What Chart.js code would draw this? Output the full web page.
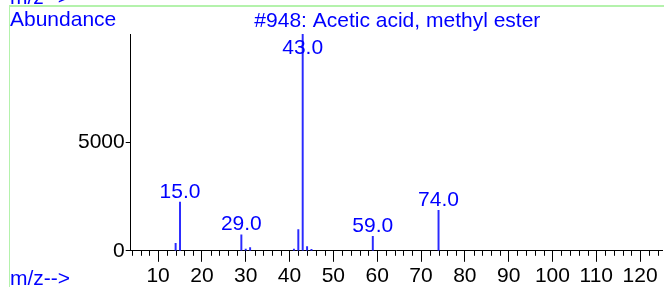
<!DOCTYPE html>
<html>
<head>
<meta charset="utf-8">
<script src="https://cdn.jsdelivr.net/npm/chart.js@4/dist/chart.umd.min.js"></script>
<style>
  html, body { margin: 0; padding: 0; background: #fff; }
  #wrap { width: 664px; height: 287px; }
</style>
</head>
<body>
<div id="wrap"><canvas id="msChart" width="664" height="287"></canvas></div>
<script>
/* ===== SPECTRUM DATA ===== */
const compoundTitle = "#948: Acetic acid, methyl ester";
const mzValues   = [14, 15, 29, 30, 31, 41, 42, 43, 44, 45, 59, 74];
const abundance  = [350, 2250, 740, 80, 150, 80, 980, 9999, 190, 70, 665, 1870];
const labelledPeaks = [15, 29, 43, 59, 74];
const xTickLabels = [10, 20, 30, 40, 50, 60, 70, 80, 90, 100, 110, 120];
const yTickLabels = [0, 5000];

const FONT = "Liberation Sans, Arial, sans-serif";
const BLUE = "#0000ff";

/* ===== ANNOTATIONS, FRAME, MINOR TICKS ===== */
const spectrumDecor = {
  id: "spectrumDecor",
  beforeDraw(chart) {
    const ctx = chart.ctx;
    ctx.save();
    ctx.strokeStyle = "#b4f2ac";
    ctx.lineWidth = 2;
    ctx.beginPath();
    ctx.moveTo(9, 6); ctx.lineTo(664, 6);
    ctx.stroke();
    ctx.lineWidth = 1;
    ctx.beginPath();
    ctx.moveTo(9.5, 6); ctx.lineTo(9.5, 287);
    ctx.stroke();
    ctx.restore();
  },
  afterDraw(chart) {
    const ctx = chart.ctx;
    const area = chart.chartArea;
    const x = chart.scales.x;
    const y = chart.scales.y;

    ctx.save();
    // minor ticks every 2 m/z
    ctx.strokeStyle = "#000";
    ctx.lineWidth = 1;
    ctx.beginPath();
    for (let v = Math.ceil(x.min / 2) * 2; v <= x.max; v += 2) {
      if (v % 10 === 0) continue;
      const px = Math.round(x.getPixelForValue(v)) + 0.5;
      ctx.moveTo(px, area.bottom);
      ctx.lineTo(px, area.bottom + 5);
    }
    ctx.stroke();

    ctx.font = "21px " + FONT;
    ctx.fillStyle = BLUE;
    ctx.textBaseline = "alphabetic";

    ctx.textAlign = "left";
    ctx.fillText("m/z-->", 10, 4);
    ctx.fillText("Abundance", 10, 26);
    ctx.fillText("m/z-->", 10, 285);

    ctx.textAlign = "center";
    ctx.fillText(compoundTitle, (area.left + area.right) / 2 + 1, 27);

    // peak labels
    labelledPeaks.forEach(mz => {
      const i = mzValues.indexOf(mz);
      const px = x.getPixelForValue(mz);
      const top = y.getPixelForValue(abundance[i]);
      const base = Math.max(top - 4.5, area.top + 19.5);
      ctx.fillText(mz.toFixed(1), px, base);
    });
    ctx.restore();
  }
};

/* ===== CHART ===== */
new Chart(document.getElementById("msChart"), {
  type: "bar",
  data: {
    datasets: [{
      data: mzValues.map((m, i) => ({ x: m, y: abundance[i] })),
      backgroundColor: "#2a2aff",
      barThickness: 1.3
    }]
  },
  options: {
    responsive: false,
    animation: false,
    layout: { padding: { left: 77, top: 34, right: 2, bottom: -4 } },
    plugins: {
      legend: { display: false },
      tooltip: { enabled: false }
    },
    scales: {
      x: {
        type: "linear",
        offset: false,
        min: 3.75,
        max: 125,
        afterBuildTicks: axis => { axis.ticks = xTickLabels.map(v => ({ value: v })); },
        border: { color: "#000", width: 1 },
        grid: { offset: false, drawOnChartArea: false, tickLength: 11, tickColor: "#000" },
        ticks: { color: "#000", padding: 2, maxRotation: 0, autoSkip: false,
                 font: { family: FONT, size: 21 },
                 callback: v => String(v) }
      },
      y: {
        min: 0,
        max: 10020,
        afterBuildTicks: axis => { axis.ticks = yTickLabels.map(v => ({ value: v })); },
        border: { color: "#000", width: 1 },
        grid: { drawOnChartArea: false, tickLength: 5, tickColor: "#000" },
        ticks: { color: "#000", padding: 1,
                 font: { family: FONT, size: 21 },
                 callback: v => String(v) }
      }
    }
  },
  plugins: [spectrumDecor]
});
</script>
</body>
</html>
